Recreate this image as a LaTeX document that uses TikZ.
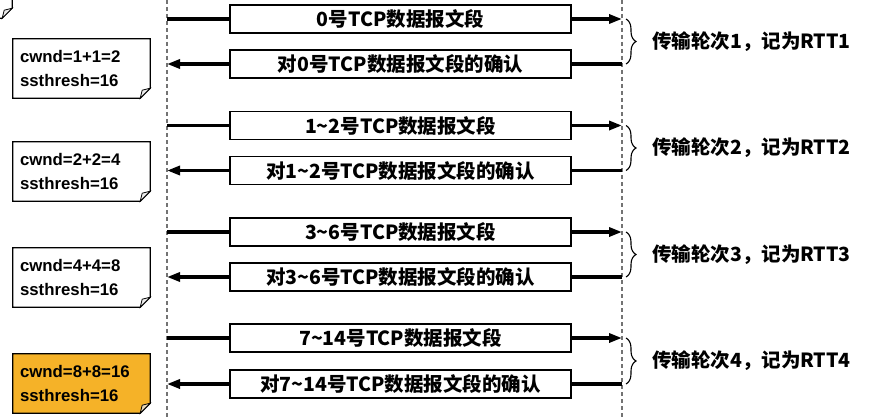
\documentclass[tikz,border=0pt]{standalone}
\usepackage{fontspec}
\setmainfont{Liberation Sans}
\newfontfamily\cjk{Noto Sans CJK SC}
\usetikzlibrary{arrows.meta,decorations.pathreplacing,calc,backgrounds}
\definecolor{noteorange}{HTML}{F5B228}
\newcommand\noteshape[2]{%
  \begin{pgfonlayer}{background}
  \draw[line width=1.2pt,fill=#2] (#1.north west) -- (#1.north east) -- ($(#1.south east)+(0,-10)$) -- ($(#1.south east)+(-10,0)$) -- (#1.south west) -- cycle;
  \draw[line width=0.8pt,fill=#2!60!gray!40] ($(#1.south east)+(0,-10)$) .. controls ($(#1.south east)+(-4,-9)$) .. ($(#1.south east)+(-8,-8)$) .. controls ($(#1.south east)+(-9,-4)$) .. ($(#1.south east)+(-10,0)$) -- cycle;
  \end{pgfonlayer}}
\begin{document}
\begin{tikzpicture}[x=1pt,y=-1pt,
  msg/.style={draw=black,line width=1.3pt,fill=white,minimum width=341pt,minimum height=28pt,inner sep=0pt,font=\cjk\bfseries\fontsize{19.5}{23}\selectfont},
  arr/.style={line width=3.2pt,-{Triangle[length=13pt,width=9pt]}},
  seg/.style={line width=3.2pt},
  life/.style={draw=black!55,line width=1.1pt,dash pattern=on 4pt off 3pt},
  notebox/.style={minimum height=59pt,inner ysep=0pt,inner xsep=7pt,text width=123pt,align=left,font=\bfseries\fontsize{16.8}{24}\selectfont},
  rtt/.style={anchor=west,inner sep=0pt,font=\cjk\bfseries\fontsize{19.5}{23}\selectfont},
  brc/.style={decorate,decoration={brace,amplitude=10pt},line width=1.1pt}
]
\useasboundingbox (0,0) rectangle (873,420);
\begin{pgfonlayer}{background}
\fill[white] (0,0) rectangle (873,420);
\end{pgfonlayer}

% lifelines
\coordinate (LT) at (167,0);
\coordinate (LB) at (167,420);
\coordinate (RT) at (622,0);
\coordinate (RB) at (622,420);
\draw[life] (LT) -- (LB);
\draw[life] (RT) -- (RB);

% rows
\foreach \i/\y in {1/19,2/64,3/125.5,4/170.5,5/232,6/277,7/338,8/384}{
  \coordinate (L\i) at (167,\y);
  \coordinate (R\i) at (622,\y);
  \coordinate (B\i) at (626,\y);
}

\node[msg] (m1) at (400.5,19) {0号TCP数据报文段};
\node[msg] (m2) at (400.5,64) {对0号TCP数据报文段的确认};
\node[msg] (m3) at (400.5,125.5) {1\textasciitilde 2号TCP数据报文段};
\node[msg] (m4) at (400.5,170.5) {对1\textasciitilde 2号TCP数据报文段的确认};
\node[msg] (m5) at (400.5,232) {3\textasciitilde 6号TCP数据报文段};
\node[msg] (m6) at (400.5,277) {对3\textasciitilde 6号TCP数据报文段的确认};
\node[msg] (m7) at (400.5,338) {7\textasciitilde 14号TCP数据报文段};
\node[msg] (m8) at (400.5,384) {对7\textasciitilde 14号TCP数据报文段的确认};

\foreach \i in {1,3,5,7}{
  \draw[seg] (L\i) -- (m\i);
  \draw[arr] (m\i) -- (R\i);
}
\foreach \i in {2,4,6,8}{
  \draw[seg] (R\i) -- (m\i);
  \draw[arr] (m\i) -- (L\i);
}

% braces and labels
\draw[brc] (B1) -- (B2);
\draw[brc] (B3) -- (B4);
\draw[brc] (B5) -- (B6);
\draw[brc] (B7) -- (B8);
\node[rtt] (t1) at (652,42) {传输轮次1，记为RTT1};
\node[rtt] (t2) at (652,148) {传输轮次2，记为RTT2};
\node[rtt] (t3) at (652,254.5) {传输轮次3，记为RTT3};
\node[rtt] (t4) at (652,361) {传输轮次4，记为RTT4};

% notes
\node[notebox] (n0) at (-56.5,-11.5) {};
\noteshape{n0}{white}
\node[notebox] (n1) at (81.5,68.5) {cwnd=1+1=2\\ssthresh=16};
\noteshape{n1}{white}
\node[notebox] (n2) at (81.5,171.5) {cwnd=2+2=4\\ssthresh=16};
\noteshape{n2}{white}
\node[notebox] (n3) at (81.5,277.5) {cwnd=4+4=8\\ssthresh=16};
\noteshape{n3}{white}
\node[notebox] (n4) at (81.5,383.5) {cwnd=8+8=16\\ssthresh=16};
\noteshape{n4}{noteorange}
\end{tikzpicture}
\end{document}
